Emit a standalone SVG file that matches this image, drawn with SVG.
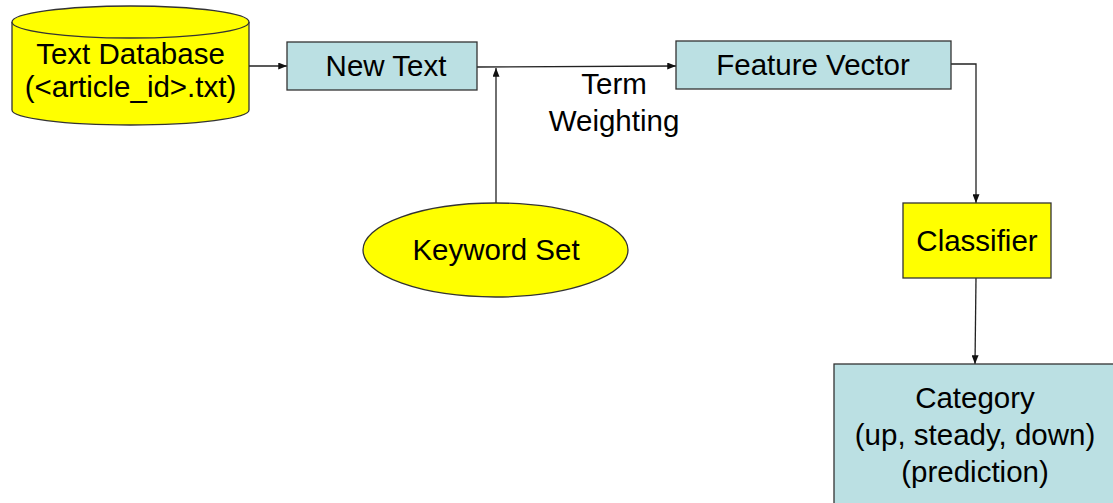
<svg xmlns="http://www.w3.org/2000/svg" width="1113" height="503" viewBox="0 0 1113 503">
  <defs>
    <marker id="arrow" viewBox="0 0 10 8" refX="10" refY="4" markerWidth="9" markerHeight="7" markerUnits="userSpaceOnUse" orient="auto">
      <path d="M0,0 L10,4 L0,8 Z" fill="#111"/>
    </marker>
    <style>
      .lbl { font-family: "Liberation Sans", Arial, sans-serif; font-size: 29.5px; fill: #000; text-anchor: middle; }
      .yellow { fill: #FFFF00; stroke: #333; stroke-width: 1.3; }
      .blue { fill: #BBE0E3; stroke: #333; stroke-width: 1.3; }
      .conn { fill: none; stroke: #222; stroke-width: 1.3; }
    </style>
  </defs>
  <rect width="1113" height="503" fill="#FFFFFF"/>

  <!-- connectors -->
  <g id="connectors">
    <path class="conn" d="M249,66 L287,66" marker-end="url(#arrow)"/>
    <path class="conn" d="M477,67 L676,66" marker-end="url(#arrow)"/>
    <path class="conn" d="M496,203 L496,68" marker-end="url(#arrow)"/>
    <path class="conn" d="M951,64 L976,64 L976,203" marker-end="url(#arrow)"/>
    <path class="conn" d="M976,278 L975,364" marker-end="url(#arrow)"/>
    <text class="lbl" x="614" y="94">Term</text>
    <text class="lbl" x="614" y="131">Weighting</text>
  </g>

  <!-- Text Database (cylinder) -->
  <g id="text-database">
    <path class="yellow" d="M12,22 L12,110 A118.5,15 0 0 0 249,110 L249,22"/>
    <ellipse class="yellow" cx="130.5" cy="22" rx="118.5" ry="16"/>
    <text class="lbl" x="130.5" y="64">Text Database</text>
    <text class="lbl" x="130.5" y="97">(&lt;article_id&gt;.txt)</text>
  </g>

  <!-- New Text -->
  <g id="new-text">
    <rect class="blue" x="287" y="42" width="190" height="48"/>
    <text class="lbl" x="386" y="76">New Text</text>
  </g>

  <!-- Feature Vector -->
  <g id="feature-vector">
    <rect class="blue" x="676" y="41" width="275" height="48"/>
    <text class="lbl" x="813" y="75">Feature Vector</text>
  </g>

  <!-- Keyword Set -->
  <g id="keyword-set">
    <ellipse class="yellow" cx="495.5" cy="250" rx="132.5" ry="47"/>
    <text class="lbl" x="496" y="260">Keyword Set</text>
  </g>

  <!-- Classifier -->
  <g id="classifier">
    <rect class="yellow" x="903" y="203" width="148" height="75"/>
    <text class="lbl" x="977" y="251">Classifier</text>
  </g>

  <!-- Category -->
  <g id="category">
    <rect class="blue" x="834" y="364" width="300" height="160"/>
    <text class="lbl" x="975" y="408">Category</text>
    <text class="lbl" x="975" y="445">(up, steady, down)</text>
    <text class="lbl" x="975" y="482">(prediction)</text>
  </g>
</svg>
